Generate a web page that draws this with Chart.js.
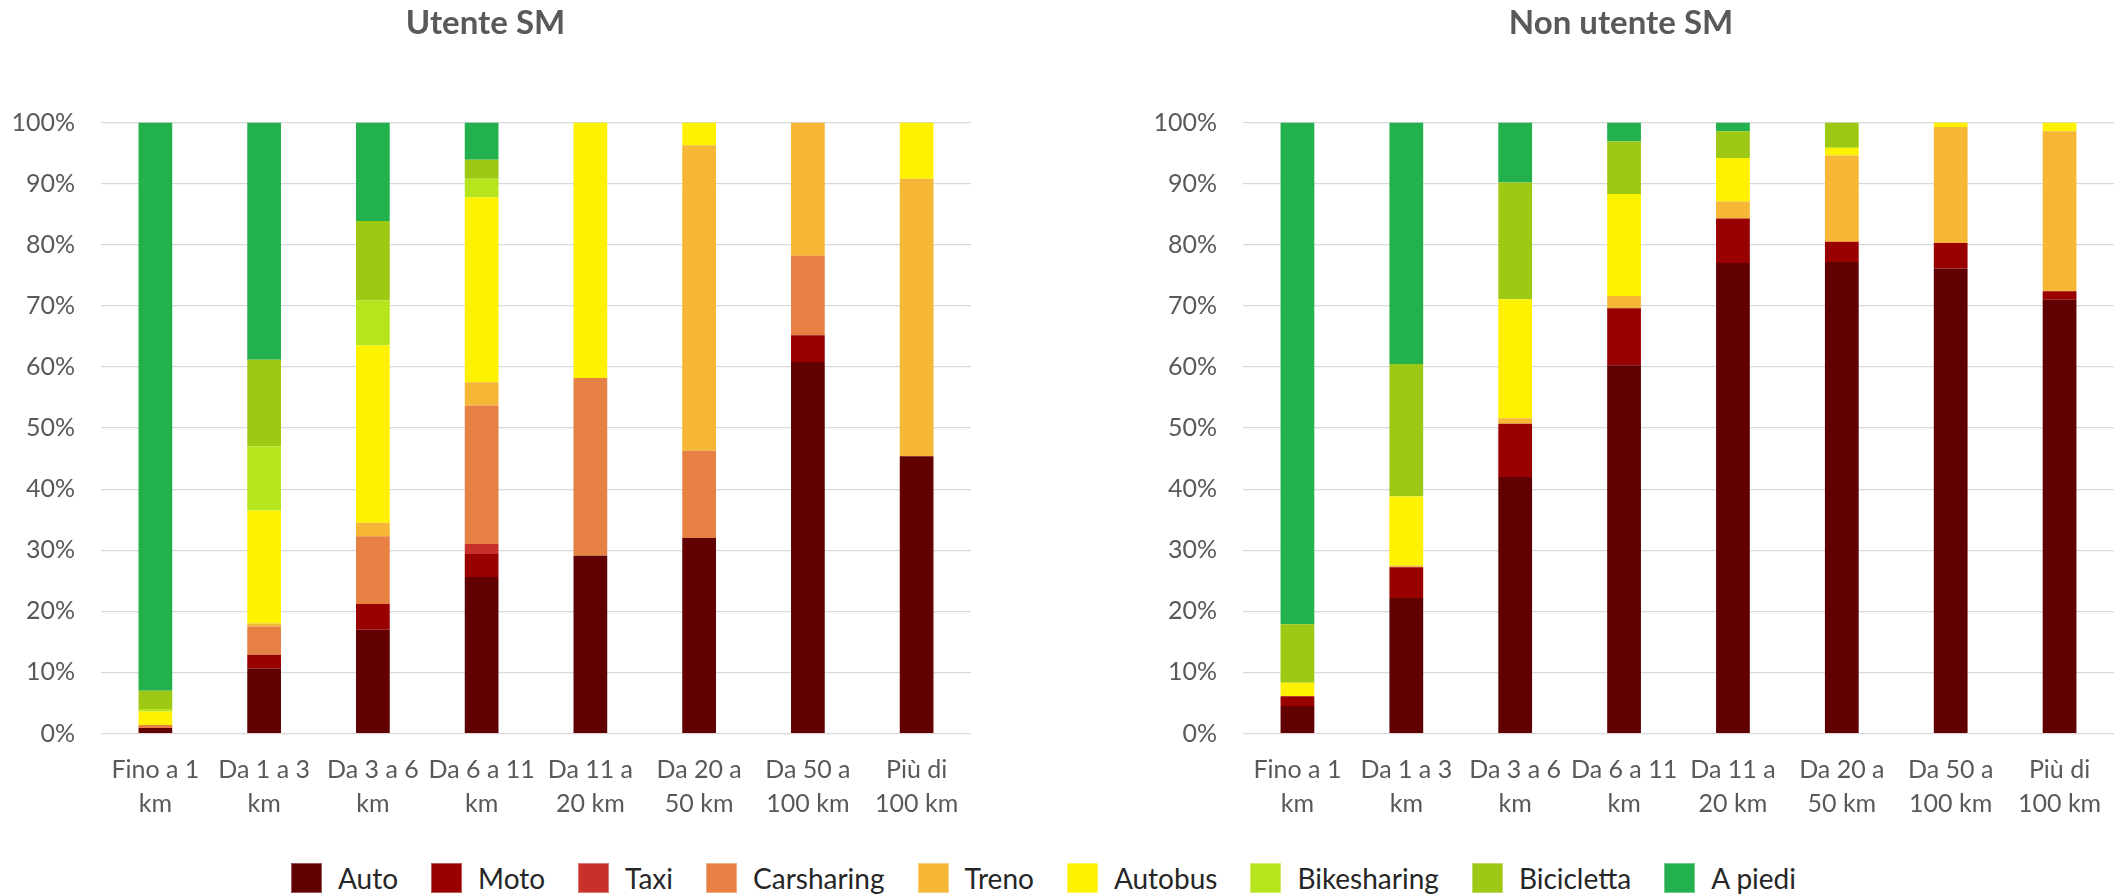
<!DOCTYPE html>
<html lang="it">
<head>
<meta charset="utf-8">
<title>Ripartizione modale per distanza</title>
<script src="https://cdn.jsdelivr.net/npm/chart.js@4.4.1/dist/chart.umd.min.js"></script>
<style>
  html, body { margin: 0; padding: 0; background: #fff; }
  body { width: 2114px; height: 896px; position: relative; overflow: hidden; font-family: Lato, "Open Sans", sans-serif; }
  .pane { position: absolute; top: 0; height: 840px; }
  #paneSM { left: 0; width: 976px; }
  #paneNonSM { left: 1128px; width: 986px; }
  #legend {
    position: absolute; top: 862px; left: 291px;
    display: flex; align-items: center; height: 32px;
    font-size: 28px; color: #262626;
  }
  #legend .item { display: flex; align-items: center; margin-right: 33px; }
  #legend .box { width: 31px; height: 30px; margin-right: 16px; box-sizing: border-box; border: 1px solid rgba(255,255,255,0.35); }
</style>
</head>
<body>
<div class="pane" id="paneSM"><canvas id="chartSM" width="976" height="840"></canvas></div>
<div class="pane" id="paneNonSM"><canvas id="chartNonSM" width="986" height="840"></canvas></div>
<div id="legend"></div>

<script>
// classi di distanza (asse x, due righe)
const categories = [
    ['Fino a 1', 'km'], ['Da 1 a 3', 'km'], ['Da 3 a 6', 'km'], ['Da 6 a 11', 'km'],
    ['Da 11 a', '20 km'], ['Da 20 a', '50 km'], ['Da 50 a', '100 km'], ['Più di', '100 km']
];

const modes = ['Auto', 'Moto', 'Taxi', 'Carsharing', 'Treno', 'Autobus', 'Bikesharing', 'Bicicletta', 'A piedi'];
const modeColors = ['#600000', '#990000', '#C9302A', '#E78143', '#F6B737', '#FFF200', '#B5E61D', '#9DC814', '#22B14C'];

// Utente SM - quota % per classe di distanza
const smAuto        = [0.9, 10.6, 17.0, 25.6, 29.1, 32.0, 60.8, 45.4];
const smMoto        = [0,    2.3,  4.2,  3.8,  0,    0,    4.4,  0];
const smTaxi        = [0,    0,    0,    1.6,  0,    0,    0,    0];
const smCarsharing  = [0.5,  4.6, 11.1, 22.7, 29.1, 14.3, 13.0,  0];
const smTreno       = [0,    0.5,  2.2,  3.8,  0,   50.0, 21.8, 45.4];
const smAutobus     = [2.2, 18.5, 29.0, 30.3, 41.8,  3.7,  0,    9.2];
const smBikesharing = [0.4, 10.5,  7.4,  3.0,  0,    0,    0,    0];
const smBicicletta  = [3.0, 14.2, 13.0,  3.1,  0,    0,    0,    0];
const smPiedi       = [93.0, 38.8, 16.1, 6.1,  0,    0,    0,    0];

// Non utente SM
const nsmAuto        = [4.5, 22.2, 42.0, 60.3, 77.0, 77.2, 76.1, 71.0];
const nsmMoto        = [1.6,  5.0,  8.7,  9.3,  7.3,  3.3,  4.2,  1.4];
const nsmTaxi        = [0,    0,    0,    0,    0,    0,    0,    0];
const nsmCarsharing  = [0,    0,    0,    0,    0,    0,    0,    0];
const nsmTreno       = [0,    0.3,  0.9,  2.0,  2.8, 14.1, 19.0, 26.2];
const nsmAutobus     = [2.2, 11.3, 19.5, 16.7,  7.1,  1.3,  0.7,  1.4];
const nsmBikesharing = [0,    0,    0,    0,    0,    0,    0,    0];
const nsmBicicletta  = [9.6, 21.7, 19.1,  8.6,  4.4,  4.1,  0,    0];
const nsmPiedi       = [82.1, 39.5, 9.8,  3.1,  1.4,  0,    0,    0];

const seriesSM = [smAuto, smMoto, smTaxi, smCarsharing, smTreno, smAutobus, smBikesharing, smBicicletta, smPiedi];
const seriesNonSM = [nsmAuto, nsmMoto, nsmTaxi, nsmCarsharing, nsmTreno, nsmAutobus, nsmBikesharing, nsmBicicletta, nsmPiedi];

const FONT = 'Lato, "Open Sans", sans-serif';
const GREY = '#595959';

const makeChart = (canvasId, title, series, axisWidth) => {
    const ctx = document.getElementById(canvasId).getContext('2d');
    return new Chart(ctx, {
        type: 'bar',
        data: {
            labels: categories,
            datasets: modes.map((name, i) => ({
                label: name,
                data: series[i],
                backgroundColor: modeColors[i],
                borderWidth: 0,
                barPercentage: 0.31,
                categoryPercentage: 1
            }))
        },
        options: {
            responsive: false,
            animation: false,
            devicePixelRatio: 1,
            layout: { padding: { left: 0, right: canvasId === 'chartSM' ? 5 : 0, top: 0, bottom: 0 } },
            plugins: {
                legend: { display: false },
                tooltip: { enabled: false },
                title: {
                    display: true,
                    text: title,
                    color: GREY,
                    font: { family: FONT, size: 33, weight: 'bold', lineHeight: 1.2 },
                    padding: { top: 4, bottom: 79 }
                }
            },
            scales: {
                x: {
                    stacked: true,
                    grid: { display: false },
                    border: { display: false },
                    ticks: {
                        color: GREY,
                        font: { family: FONT, size: 25, lineHeight: 1.35 },
                        padding: 12,
                        maxRotation: 0,
                        autoSkip: false
                    },
                    afterFit: (scale) => { scale.height = 840 - 733.5; }
                },
                y: {
                    stacked: true,
                    min: 0,
                    max: 100,
                    grid: { color: '#D9D9D9', lineWidth: 1.2, drawTicks: false },
                    border: { display: false },
                    ticks: {
                        stepSize: 10,
                        color: GREY,
                        font: { family: FONT, size: 25 },
                        padding: 26,
                        callback: (v) => v + '%'
                    },
                    afterFit: (scale) => { scale.width = axisWidth; }
                }
            }
        }
    });
};

makeChart('chartSM', 'Utente SM', seriesSM, 101);
makeChart('chartNonSM', 'Non utente SM', seriesNonSM, 115);

// legenda comune sotto i due grafici
const legend = document.getElementById('legend');
modes.forEach((name, i) => {
    const item = document.createElement('div');
    item.className = 'item';
    const box = document.createElement('span');
    box.className = 'box';
    box.style.background = modeColors[i];
    const txt = document.createElement('span');
    txt.textContent = name;
    item.appendChild(box);
    item.appendChild(txt);
    legend.appendChild(item);
});
</script>
</body>
</html>
